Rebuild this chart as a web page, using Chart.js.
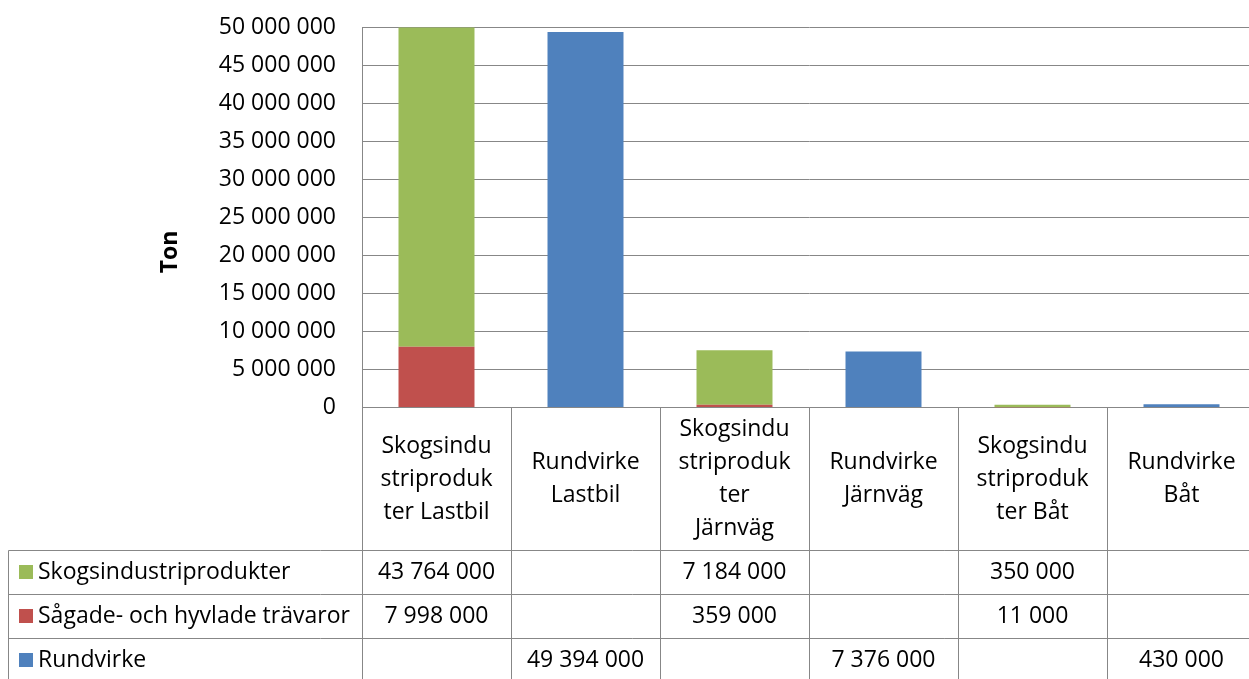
<!DOCTYPE html>
<html>
<head>
<meta charset="utf-8">
<script src="https://cdn.jsdelivr.net/npm/chart.js@4.4.0/dist/chart.umd.min.js"></script>
<style>
  html, body { margin: 0; padding: 0; background: #fff; overflow: hidden; }
  #wrap { width: 1257px; height: 679px; position: relative; }
</style>
</head>
<body>
<div id="wrap"><canvas id="chart"></canvas></div>
<script>
// category labels, wrapped the way the original table cells wrap them
const categories = [
  ["Skogsindu", "striproduk", "ter Lastbil"],
  ["Rundvirke", "Lastbil"],
  ["Skogsindu", "striproduk", "ter", "Järnväg"],
  ["Rundvirke", "Järnväg"],
  ["Skogsindu", "striproduk", "ter Båt"],
  ["Rundvirke", "Båt"]
];
const seriesNames = ["Skogsindustriprodukter", "Sågade- och hyvlade trävaror", "Rundvirke"];
const seriesColors = ["#9BBB59", "#C0504D", "#4F81BD"];
const skogsindustri = [43764000, null, 7184000, null, 350000, null];
const sagade = [7998000, null, 359000, null, 11000, null];
const rundvirke = [null, 49394000, null, 7376000, null, 430000];
const yTickValues = [0, 5000000, 10000000, 15000000, 20000000, 25000000, 30000000, 35000000, 40000000, 45000000, 50000000];

const FONT = "'Open Sans', Lato, sans-serif";
const FS = 23;
const GRID = "#878787";

const fmt = v => String(v).replace(/\B(?=(\d{3})+(?!\d))/g, " ");

// draws the axis title and the data table under the plot
const tablePlugin = {
  id: "dataTable",
  afterDraw(chart) {
    const { ctx, chartArea: a, scales: { x } } = chart;
    const n = categories.length;
    const edges = [a.left];
    for (let i = 1; i < n; i++) edges.push((x.getPixelForValue(i - 1) + x.getPixelForValue(i)) / 2);
    edges.push(a.right);
    const px = v => Math.round(v) + 0.5;

    const catBottom = 550.5;
    const rowH = 44;
    const tableLeft = 8.5;
    const rowTops = [catBottom, catBottom + rowH, catBottom + rowH * 2, catBottom + rowH * 3];

    ctx.save();
    ctx.strokeStyle = GRID;
    ctx.lineWidth = 1;
    ctx.beginPath();
    edges.forEach(e => { ctx.moveTo(px(e), a.bottom); ctx.lineTo(px(e), rowTops[3]); });
    ctx.moveTo(tableLeft, catBottom); ctx.lineTo(tableLeft, rowTops[3]);
    rowTops.forEach(t => { ctx.moveTo(tableLeft, t); ctx.lineTo(a.right, t); });
    ctx.stroke();

    ctx.fillStyle = "#000";
    ctx.font = FS + "px " + FONT;
    ctx.textAlign = "center";
    ctx.textBaseline = "middle";

    // category header cells
    const lh = 33;
    const catMid = (a.bottom + catBottom) / 2;
    categories.forEach((lines, i) => {
      const cx = x.getPixelForValue(i);
      const y0 = catMid - (lines.length - 1) * lh / 2;
      lines.forEach((t, j) => ctx.fillText(t, cx, y0 + j * lh));
    });

    // legend keys + values
    const rows = [skogsindustri, sagade, rundvirke];
    rows.forEach((vals, r) => {
      const cy = rowTops[r] + rowH / 2;
      ctx.fillStyle = seriesColors[r];
      ctx.fillRect(19, Math.round(cy - 8), 14, 14);
      ctx.fillStyle = "#000";
      ctx.textAlign = "left";
      ctx.fillText(seriesNames[r], 38, cy);
      ctx.textAlign = "center";
      vals.forEach((v, i) => {
        if (v != null) ctx.fillText(fmt(v), x.getPixelForValue(i), cy);
      });
    });

    // axis title
    ctx.translate(170, 252);
    ctx.rotate(-Math.PI / 2);
    ctx.font = "bold " + FS + "px " + FONT;
    ctx.fillText("Ton", 0, 0);
    ctx.restore();
  }
};

new Chart(document.getElementById("chart"), {
  type: "bar",
  data: {
    labels: categories.map(c => c.join(" ")),
    datasets: [
      { label: seriesNames[1], data: sagade, backgroundColor: seriesColors[1] },
      { label: seriesNames[0], data: skogsindustri, backgroundColor: seriesColors[0] },
      { label: seriesNames[2], data: rundvirke, backgroundColor: seriesColors[2] }
    ]
  },
  options: {
    responsive: true,
    maintainAspectRatio: false,
    animation: false,
    layout: { padding: { top: 27.5, right: 1, bottom: 263.5, left: 0 } },
    datasets: { bar: { categoryPercentage: 1, barPercentage: 0.51, skipNull: true, grouped: false } },
    plugins: { legend: { display: false }, tooltip: { enabled: false } },
    scales: {
      x: {
        stacked: true,
        ticks: { display: false },
        grid: { display: false },
        border: { color: GRID }
      },
      y: {
        stacked: true,
        min: 0,
        max: 50000000,
        afterBuildTicks: s => { s.ticks = yTickValues.map(v => ({ value: v })); },
        afterFit: s => { s.width = 362; s.paddingTop = 0; s.paddingBottom = 0; },
        ticks: { padding: 26, color: "#000", font: { family: FONT, size: FS }, callback: v => fmt(v) },
        grid: { color: GRID, drawTicks: false },
        border: { color: GRID }
      }
    }
  },
  plugins: [tablePlugin]
});
</script>
</body>
</html>
